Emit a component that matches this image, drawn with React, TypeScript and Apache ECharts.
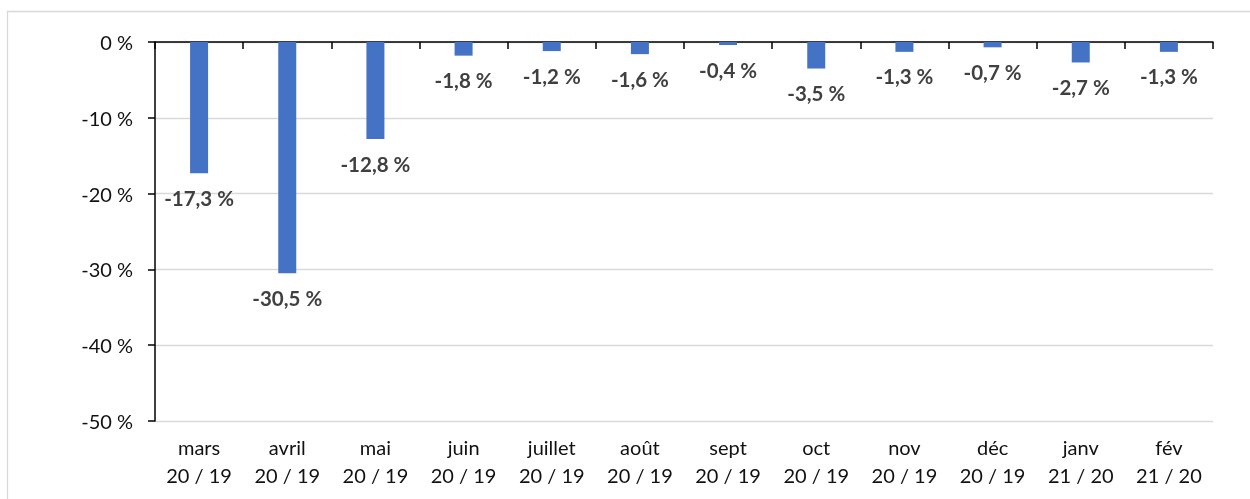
import React, { useEffect, useRef } from "react";
import * as echarts from "echarts";

const months = ["mars", "avril", "mai", "juin", "juillet", "août", "sept", "oct", "nov", "déc", "janv", "fév"];
const periods = ["20 / 19", "20 / 19", "20 / 19", "20 / 19", "20 / 19", "20 / 19", "20 / 19", "20 / 19", "20 / 19", "20 / 19", "21 / 20", "21 / 20"];
const values = [-17.3, -30.5, -12.8, -1.8, -1.2, -1.6, -0.4, -3.5, -1.3, -0.7, -2.7, -1.3];

const FONT = "Lato, 'Open Sans', sans-serif";

export default function App() {
  const ref = useRef<HTMLDivElement>(null);
  useEffect(() => {
    if (!ref.current) return;
    const chart = echarts.init(ref.current, undefined, { renderer: "svg" });
    const cats = months.map((m, i) => m + "\n" + periods[i]);
    chart.setOption({
      animation: false,
      graphic: [
        {
          type: "rect",
          shape: { x: 7.5, y: 11.5, width: 1400, height: 700 },
          style: { fill: "none", stroke: "#d9d9d9", lineWidth: 1.3 },
          z: 0,
        },
      ],
      grid: { left: 155, right: 37, top: 42, bottom: 78, containLabel: false },
      xAxis: [
        {
          type: "category",
          data: cats,
          position: "bottom",
          axisLine: { show: false, onZero: false },
          axisTick: { show: false },
          axisLabel: {
            fontFamily: FONT,
            fontSize: 20,
            color: "#111",
            lineHeight: 28,
            margin: 12,
            interval: 0,
          },
        },
        {
          type: "category",
          data: cats,
          position: "top",
          axisLine: { show: true, onZero: false, lineStyle: { color: "#000", width: 1.5 } },
          axisTick: { show: true, inside: true, length: 7, lineStyle: { color: "#000", width: 1.5 } },
          axisLabel: { show: false },
        },
      ],
      yAxis: {
        type: "value",
        min: -50,
        max: 0,
        interval: 10,
        axisLine: { show: true, lineStyle: { color: "#000", width: 1.5 } },
        axisTick: { show: true, length: 7, lineStyle: { color: "#000", width: 1.5 } },
        splitLine: { show: true, lineStyle: { color: "#d9d9d9", width: 1.3 } },
        axisLabel: {
          fontFamily: FONT,
          fontSize: 20,
          color: "#111",
          margin: 22,
          formatter: (v: number) => v + " %",
        },
      },
      series: [
        {
          type: "bar",
          data: values,
          barWidth: 18,
          itemStyle: { color: "#4472C4" },
          label: {
            show: true,
            position: "bottom",
            distance: 14,
            fontFamily: FONT,
            fontSize: 20.5,
            fontWeight: "bold",
            color: "#404040",
            formatter: (p: any) => String(p.value).replace(".", ",") + " %",
          },
        },
      ],
    });
    return () => chart.dispose();
  }, []);
  return <div ref={ref} style={{ position: "fixed", left: 0, top: 0, width: 1250, height: 499 }} />;
}
